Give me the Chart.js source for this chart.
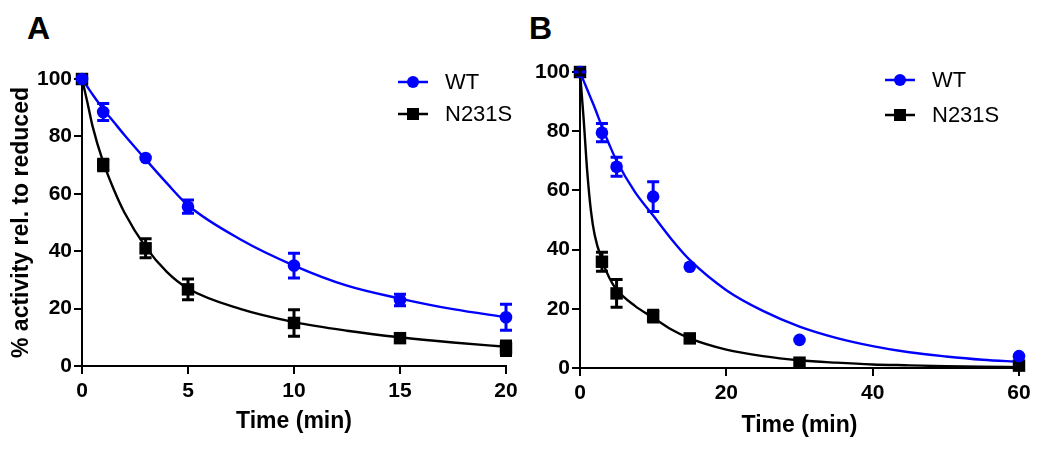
<!DOCTYPE html>
<html>
<head>
<meta charset="utf-8">
<script src="https://cdn.jsdelivr.net/npm/chart.js@4.4.1/dist/chart.umd.min.js"></script>
<style>
  body { margin: 0; background: #fff; width: 1050px; height: 449px; position: relative; overflow: hidden; }
  canvas { position: absolute; top: 0; }
  #cA { left: 0; }
  #cB { left: 525px; }
  .panel { position: absolute; top: 12px; font: bold 32px "Liberation Sans", Arial, sans-serif; line-height: 32px; color: #000; }
</style>
</head>
<body>
<div class="panel" style="left:27px">A</div>
<div class="panel" style="left:529px">B</div>
<canvas id="cA" width="530" height="449"></canvas>
<canvas id="cB" width="525" height="449"></canvas>
<script>
// panel A - measured points (mean, error)
const timeA = [0, 1, 3, 5, 10, 15, 20];
const wtA = [100, 88.5, 72.5, 55.5, 35, 23, 17];
const wtErrA = [0, 3, 0, 2.3, 4.3, 2, 4.5];
const mutA = [100, 70, 41, 26.7, 15, 9.7, 6.2];
const mutErrA = [0, 2, 3.3, 3.6, 4.6, 0, 2.5];

// panel A - fitted curves
const fitTimeA = [0, 0.25, 0.5, 1, 1.5, 2, 3, 4, 5, 7.5, 10, 12.5, 15, 17.5, 20];
const wtFitA = [100, 97.3, 94.6, 89.5, 85, 80.5, 72, 63.7, 56, 44, 35, 28, 23.5, 19.8, 17];
const mutFitA = [100, 92, 83.5, 71, 61.5, 53.5, 41.5, 32.8, 27, 19.8, 15.3, 12.3, 10, 8.2, 6.7];

// panel B - measured points
const timeB = [0, 3, 5, 10, 15, 30, 60];
const wtB = [100, 79.5, 68, 57.9, 34.2, 9.5, 4];
const wtErrB = [0, 3.1, 3.2, 5, 0, 0, 0];
const mutB = [100, 35.9, 25.2, 17.5, 10, 1.8, 0.8];
const mutErrB = [1, 3.2, 4.7, 2, 0, 0, 0];

// panel B - fitted curves
const fitTimeB = [0, 0.5, 1, 1.5, 2, 3, 4, 5, 7.5, 10, 12.5, 15, 20, 25, 30, 35, 40, 45, 50, 55, 60];
const wtFitB = [100, 97, 94, 91, 88, 81.5, 75.5, 70, 59.5, 51.5, 43.5, 36.5, 26.3, 19.3, 14, 10.2, 7.4, 5.3, 3.9, 2.8, 2.1];
const mutFitB = [100, 84, 66, 53, 45, 36.5, 30.5, 26.5, 21, 17, 13, 10, 6.2, 4, 2.6, 1.8, 1.2, 0.9, 0.6, 0.4, 0.3];

const seriesNames = ["WT", "N231S"];
const BLUE = "#0000ff";
const BLACK = "#000000";
const FONT = "'Liberation Sans', Arial, sans-serif";

function pts(xs, ys) {
  return xs.map((x, i) => ({ x: x, y: ys[i] }));
}

// vertical error bars with caps, drawn from each dataset's `errors`
const errorBars = {
  id: "errorBars",
  afterDatasetsDraw(chart) {
    const ctx = chart.ctx;
    const xs = chart.scales.x, ys = chart.scales.y;
    chart.data.datasets.forEach((ds) => {
      if (!ds.errors) return;
      ctx.save();
      ctx.strokeStyle = ds.borderColor;
      ctx.lineWidth = 3;
      ds.data.forEach((p, i) => {
        const e = ds.errors[i];
        if (!e) return;
        const px = xs.getPixelForValue(p.x);
        const y1 = ys.getPixelForValue(p.y + e);
        const y2 = ys.getPixelForValue(p.y - e);
        ctx.beginPath();
        ctx.moveTo(px, y1); ctx.lineTo(px, y2);
        ctx.moveTo(px - 6, y1); ctx.lineTo(px + 6, y1);
        ctx.moveTo(px - 6, y2); ctx.lineTo(px + 6, y2);
        ctx.stroke();
      });
      ctx.restore();
    });
  }
};

// legend: short line with marker, then label
const lineLegend = {
  id: "lineLegend",
  afterDraw(chart, args, opts) {
    const ctx = chart.ctx;
    ctx.save();
    opts.items.forEach((it, i) => {
      const y = opts.y[i];
      ctx.strokeStyle = it.color;
      ctx.fillStyle = it.color;
      ctx.lineWidth = 2.5;
      ctx.beginPath();
      ctx.moveTo(opts.x, y); ctx.lineTo(opts.x + 30, y);
      ctx.stroke();
      const cx = opts.x + 15;
      if (it.shape === "circle") {
        ctx.beginPath(); ctx.arc(cx, y, 6, 0, Math.PI * 2); ctx.fill();
      } else {
        ctx.fillRect(cx - 6, y - 6, 12, 12);
      }
      ctx.fillStyle = "#000";
      ctx.font = "22px " + FONT;
      ctx.textBaseline = "middle";
      ctx.fillText(it.label, opts.x + 47, y + 1);
    });
    ctx.restore();
  }
};

function makeChart(id, cfg) {
  const datasets = [
    { label: seriesNames[0], data: pts(cfg.time, cfg.wt), errors: cfg.wtErr, showLine: false,
      pointStyle: "circle", pointRadius: 6.3, backgroundColor: BLUE, borderColor: BLUE, borderWidth: 0, clip: false },
    { label: seriesNames[1], data: pts(cfg.time, cfg.mut), errors: cfg.mutErr, showLine: false,
      pointStyle: "rect", pointRadius: 8.8, backgroundColor: BLACK, borderColor: BLACK, borderWidth: 0, clip: false },
    { label: "WT fit", data: pts(cfg.fitTime, cfg.wtFit), showLine: true, pointRadius: 0,
      borderColor: BLUE, borderWidth: 2.4, cubicInterpolationMode: "monotone", clip: false },
    { label: "N231S fit", data: pts(cfg.fitTime, cfg.mutFit), showLine: true, pointRadius: 0,
      borderColor: BLACK, borderWidth: 2.4, cubicInterpolationMode: "monotone", clip: false }
  ];
  return new Chart(document.getElementById(id), {
    type: "scatter",
    data: { datasets: datasets },
    options: {
      responsive: false,
      animation: false,
      devicePixelRatio: 1,
      layout: { padding: { top: cfg.top, right: cfg.right, left: 0, bottom: 0 } },
      plugins: {
        legend: { display: false },
        tooltip: { enabled: false },
        lineLegend: {
          x: cfg.legendX, y: cfg.legendY,
          items: [
            { label: seriesNames[0], color: BLUE, shape: "circle" },
            { label: seriesNames[1], color: BLACK, shape: "rect" }
          ]
        }
      },
      scales: {
        x: {
          type: "linear", min: 0, max: cfg.xMax,
          afterFit: (s) => { s.height = cfg.xHeight; },
          border: { display: true, color: "#000", width: 2 },
          grid: { drawOnChartArea: false, drawTicks: true, tickLength: 8, color: "#000", lineWidth: 2 },
          ticks: { stepSize: cfg.xStep, color: "#000", padding: 5, font: { family: FONT, size: 21, weight: "bold" } },
          title: { display: true, text: "Time (min)", color: "#000", padding: { top: 0, bottom: cfg.xTitlePad },
                   font: { family: FONT, size: 23, weight: "bold" } }
        },
        y: {
          type: "linear", min: 0, max: 100,
          afterFit: (s) => { s.width = cfg.yWidth; },
          border: { display: true, color: "#000", width: 2 },
          grid: { drawOnChartArea: false, drawTicks: true, tickLength: 8, color: "#000", lineWidth: 2 },
          ticks: { stepSize: 20, color: "#000", padding: 2, font: { family: FONT, size: 21, weight: "bold" } },
          title: { display: cfg.yTitle, text: "% activity rel. to reduced", color: "#000", padding: { top: 8, bottom: 0 },
                   font: { family: FONT, size: 23, weight: "bold" } }
        }
      }
    },
    plugins: [errorBars, lineLegend]
  });
}

makeChart("cA", {
  time: timeA, wt: wtA, wtErr: wtErrA, mut: mutA, mutErr: mutErrA,
  fitTime: fitTimeA, wtFit: wtFitA, mutFit: mutFitA,
  xMax: 20, xStep: 5, top: 79, right: 24, xHeight: 83, yWidth: 82, xTitlePad: 14,
  yTitle: true, legendX: 398, legendY: [82, 114]
});

makeChart("cB", {
  time: timeB, wt: wtB, wtErr: wtErrB, mut: mutB, mutErr: mutErrB,
  fitTime: fitTimeB, wtFit: wtFitB, mutFit: mutFitB,
  xMax: 60, xStep: 20, top: 72, right: 31, xHeight: 81, yWidth: 55, xTitlePad: 10,
  yTitle: false, legendX: 360, legendY: [80, 115]
});
</script>
</body>
</html>
